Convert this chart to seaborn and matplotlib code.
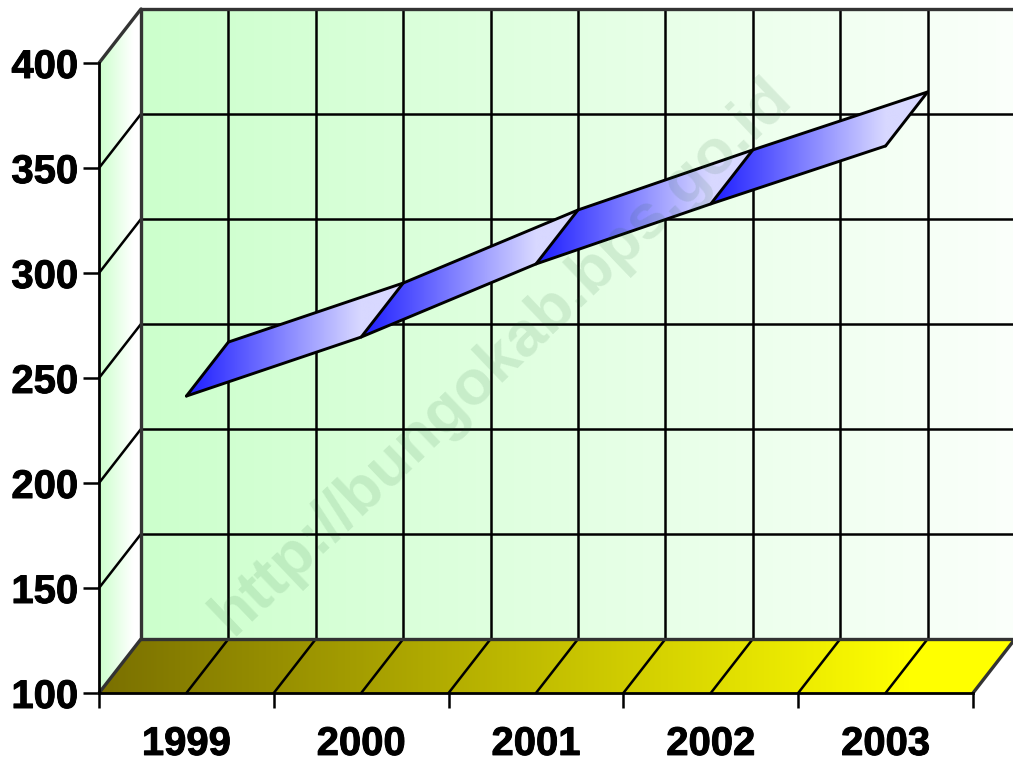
import numpy as np
import pandas as pd
import matplotlib
matplotlib.use("Agg")
import matplotlib.pyplot as plt
import matplotlib.patheffects as pe
from matplotlib.colors import LinearSegmentedColormap
from matplotlib.patches import Polygon
import seaborn as sns

# Yearly series
years = ["1999", "2000", "2001", "2002", "2003"]
values = [241.4, 269.5, 304.3, 332.9, 360.5]
y_ticks = [100, 150, 200, 250, 300, 350, 400]
watermark = "http://bungokab.bps.go.id"

sns.set_theme(style="ticks")
plt.rcParams["font.family"] = ["Liberation Sans", "DejaVu Sans"]

W, H = 1013, 771
fig = plt.figure(figsize=(W / 100, H / 100), dpi=100, facecolor="white")
ax = fig.add_axes([99 / W, (H - 693) / H, 874 / W, 630 / H], facecolor="none")

n = len(years)
y0, y1 = y_ticks[0], y_ticks[-1]
ax.set_xlim(0, n)
ax.set_ylim(y0, y1)

# Oblique depth of the pseudo-3D box, in data units
DX = 42 / (874 / n)
DY = 54 / (630 / (y1 - y0))

DARK = "#333333"
LINE = dict(color="black", lw=1.8, clip_on=False, solid_capstyle="round")
RIB = dict(color="black", lw=2.1, clip_on=False, solid_capstyle="round")
EDGE = dict(color=DARK, lw=2.4, clip_on=False, solid_capstyle="round")


def gradient(x0, x1, ramp_end, ylo, yhi, start, end, outline, zorder):
    """Horizontal colour ramp, flat past ramp_end, clipped to a polygon in data units."""
    cmap = LinearSegmentedColormap.from_list("ramp", [start, end])
    ramp = np.clip((np.linspace(x0, x1, 512) - x0) / (ramp_end - x0), 0, 1)
    im = ax.imshow(ramp.reshape(1, -1), cmap=cmap, vmin=0, vmax=1,
                   extent=[x0, x1, ylo, yhi], aspect="auto",
                   interpolation="bilinear", zorder=zorder)
    im.set_clip_box(fig.bbox)
    im.set_clip_path(Polygon(outline, closed=True, transform=ax.transData))
    return im


# Back wall, side wall and floor
back = [(DX, y0 + DY), (n + DX, y0 + DY), (n + DX, y1 + DY), (DX, y1 + DY)]
gradient(DX, n + DX, n + DX, y0 + DY, y1 + DY, "#ccffcc", "#fbfffb", back, 1)
side = [(0, y0), (DX, y0 + DY), (DX, y1 + DY), (0, y1)]
gradient(0, DX, DX * 0.8, y0, y1 + DY, "#ccffcc", "#ffffff", side, 1)
floor = [(0, y0), (n, y0), (n + DX, y0 + DY), (DX, y0 + DY)]
gradient(0, n + DX, n - 0.35, y0, y0 + DY, "#7a7000", "#ffff00", floor, 1)

# Grid lines on the walls and floor
for t in y_ticks:
    if y0 < t < y1:
        ax.plot([DX, n + DX], [t + DY, t + DY], zorder=2, **LINE)
        ax.plot([0, DX], [t, t + DY], zorder=2, **LINE)
for k in np.arange(0.5, n, 0.5):
    ax.plot([k + DX, k + DX], [y0 + DY, y1 + DY], zorder=2, **LINE)
    ax.plot([k, k + DX], [y0, y0 + DY], zorder=2, **LINE)

# Box edges
ax.plot([DX, DX], [y0 + DY, y1 + DY], zorder=2.2, **EDGE)
ax.plot([DX, n + DX], [y0 + DY, y0 + DY], zorder=2.2, **EDGE)
ax.plot([DX, n + DX], [y1 + DY, y1 + DY], zorder=2.2, **EDGE)
ax.plot([0, DX], [y1, y1 + DY], zorder=2.2, **EDGE)
ax.plot([0, DX], [y0, y0 + DY], zorder=2.2, **EDGE)
ax.plot([n, n + DX], [y0, y0 + DY], zorder=2.2, **EDGE)

# Ribbon: one shaded parallelogram per interval between years
centers = np.arange(n) + 0.5
vals = np.array(values)
for i in range(n - 1):
    quad = [(centers[i], vals[i]), (centers[i + 1], vals[i + 1]),
            (centers[i + 1] + DX, vals[i + 1] + DY), (centers[i] + DX, vals[i] + DY)]
    lo = min(p[1] for p in quad)
    hi = max(p[1] for p in quad)
    gradient(centers[i], centers[i + 1] + DX, centers[i + 1], lo, hi,
             "#1c1cff", "#d8d8ff", quad, 3 + i * 0.1)

ribbon = pd.DataFrame({"year": centers, "value": vals})
sns.lineplot(data=ribbon, x="year", y="value", color="black", lw=2.1,
             estimator=None, clip_on=False, zorder=4, ax=ax)
back_edge = ribbon.assign(year=ribbon["year"] + DX, value=ribbon["value"] + DY)
sns.lineplot(data=back_edge, x="year", y="value", color="black", lw=2.1,
             estimator=None, clip_on=False, zorder=4, ax=ax)
for c, v in zip(centers, vals):
    ax.plot([c, c + DX], [v, v + DY], zorder=4, **RIB)

ax.set_xlim(0, n)
ax.set_ylim(y0, y1)
ax.set_xlabel("")
ax.set_ylabel("")

# Axes, ticks and labels
for side_name in ("top", "right"):
    ax.spines[side_name].set_visible(False)
for side_name in ("left", "bottom"):
    ax.spines[side_name].set_color("black")
    ax.spines[side_name].set_linewidth(2.0)
    ax.spines[side_name].set_zorder(5)

ax.set_yticks(y_ticks)
ax.set_yticklabels([str(t) for t in y_ticks], fontsize=28.8, fontweight="bold", color="black")
ax.tick_params(axis="y", length=11.5, width=1.8, pad=3.5, color="black")
ax.set_xticks(np.arange(n + 1))
ax.set_xticklabels([])
ax.set_xticks(centers, minor=True)
ax.set_xticklabels(years, minor=True, fontsize=28.8, fontweight="bold", color="black")
ax.tick_params(axis="x", which="major", length=10.8, width=1.8, color="black")
ax.tick_params(axis="x", which="minor", length=0, pad=23)

heavier = [pe.withStroke(linewidth=0.7, foreground="black")]
for label in ax.get_yticklabels() + ax.get_xticklabels(minor=True):
    label.set_path_effects(heavier)

fig.text(502 / W, 1 - 357 / H, watermark, rotation=43.7, rotation_mode="anchor",
         ha="center", va="center", fontsize=45.5, fontweight="bold",
         color="#1a5c2a", alpha=0.115, zorder=10)

fig.savefig("out.png", dpi=100, facecolor="white")
